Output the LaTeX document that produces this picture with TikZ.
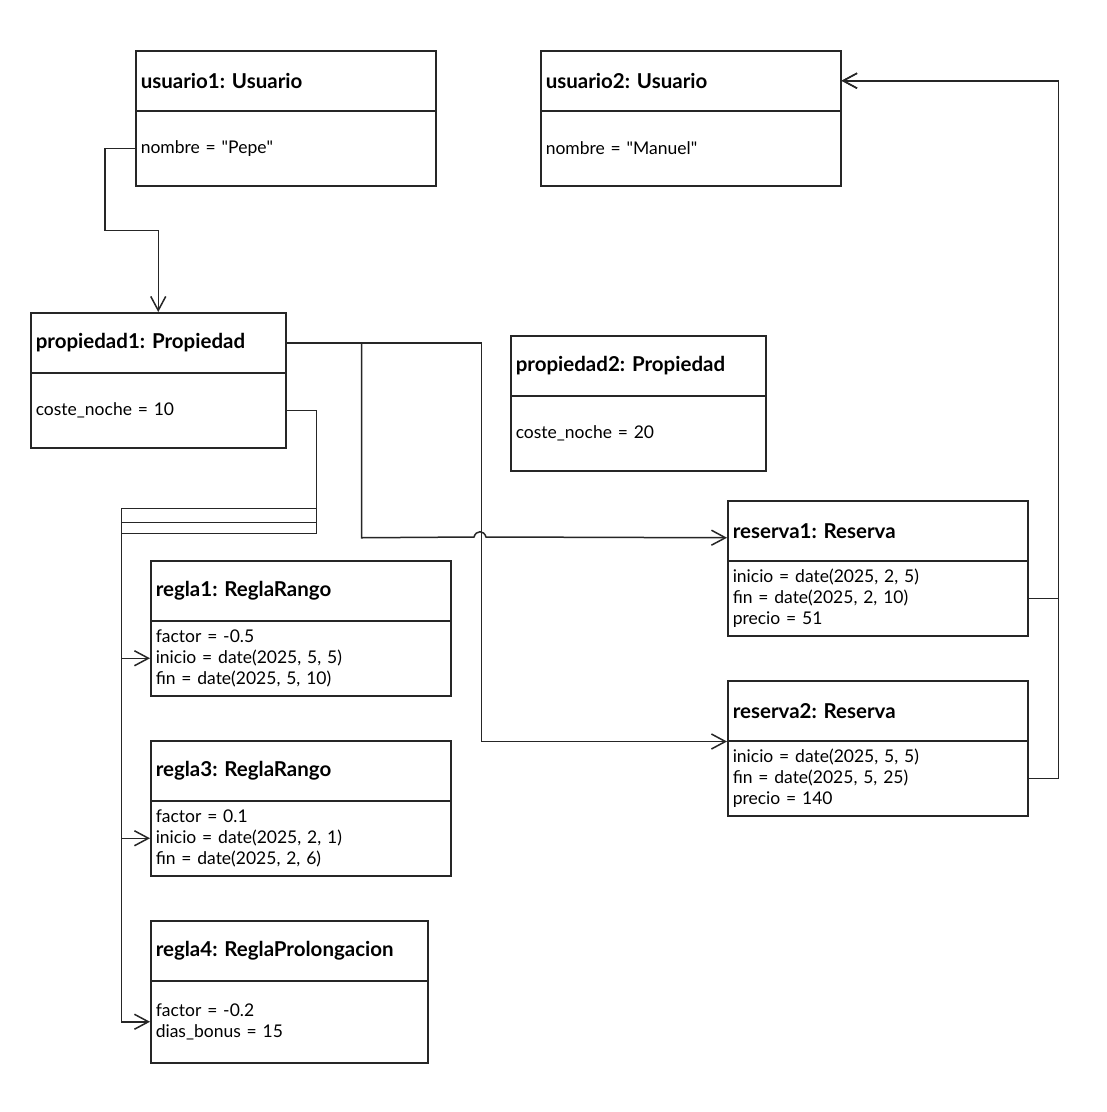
\documentclass[tikz,border=0pt]{standalone}
\usepackage{fontspec}
\setmainfont{Lato}
\usetikzlibrary{arrows.meta}
\tikzset{
  box/.style={draw=black!85, line width=1.5pt, anchor=north west, align=left,
    inner xsep=5pt, inner ysep=0pt},
  hdr/.style={box, minimum height=60pt, font=\fontsize{20.5}{24}\selectfont\bfseries},
  attr/.style={box, font=\fontsize{17.5}{21}\selectfont},
  conn/.style={draw=black!85, line width=1.5pt, -{Straight Barb[length=14pt,width=15pt]}},
}
\frenchspacing
\begin{document}
\frenchspacing
\begin{tikzpicture}[x=1pt,y=-1pt]
\useasboundingbox[fill=white] (0,0) rectangle (1107,1112);
% usuario1
\node[hdr, text width=290pt, minimum width=300pt] (u1h) at (135,50) {usuario1: Usuario};
\node[attr, text width=290pt, minimum width=300pt, minimum height=75pt] (u1b) at (135,110) {nombre = \textquotedbl Pepe\textquotedbl};
% usuario2
\node[hdr, text width=290pt, minimum width=300pt] (u2h) at (540,50) {usuario2: Usuario};
\node[attr, text width=290pt, minimum width=300pt, minimum height=75pt] (u2b) at (540,110) {nombre = \textquotedbl Manuel\textquotedbl};
% propiedad1
\node[hdr, text width=245pt, minimum width=255pt] (p1h) at (30,312) {propiedad1: Propiedad};
\node[attr, text width=245pt, minimum width=255pt, minimum height=75pt] (p1b) at (30,372) {coste\_noche = 10};
% propiedad2
\node[hdr, text width=245pt, minimum width=255pt] (p2h) at (510,335) {propiedad2: Propiedad};
\node[attr, text width=245pt, minimum width=255pt, minimum height=75pt] (p2b) at (510,395) {coste\_noche = 20};
% reserva1
\node[hdr, text width=290pt, minimum width=300pt] (r1h) at (727,500) {reserva1: Reserva};
\node[attr, text width=290pt, minimum width=300pt, minimum height=75pt] (r1b) at (727,560) {inicio = date(2025, 2, 5)\\fin = date(2025, 2, 10)\\precio = 51};
% reserva2
\node[hdr, text width=290pt, minimum width=300pt] (r2h) at (727,680) {reserva2: Reserva};
\node[attr, text width=290pt, minimum width=300pt, minimum height=75pt] (r2b) at (727,740) {inicio = date(2025, 5, 5)\\fin = date(2025, 5, 25)\\precio = 140};
% regla1
\node[hdr, text width=290pt, minimum width=300pt] (g1h) at (150,560) {regla1: ReglaRango};
\node[attr, text width=290pt, minimum width=300pt, minimum height=75pt] (g1b) at (150,620) {factor = -0.5\\inicio = date(2025, 5, 5)\\fin = date(2025, 5, 10)};
% regla3
\node[hdr, text width=290pt, minimum width=300pt] (g3h) at (150,740) {regla3: ReglaRango};
\node[attr, text width=290pt, minimum width=300pt, minimum height=75pt] (g3b) at (150,800) {factor = 0.1\\inicio = date(2025, 2, 1)\\fin = date(2025, 2, 6)};
% regla4
\node[hdr, text width=267pt, minimum width=277pt] (g4h) at (150,920) {regla4: ReglaProlongacion};
\node[attr, text width=267pt, minimum width=277pt, minimum height=82pt] (g4b) at (150,980) {factor = -0.2\\dias\_bonus = 15};
% connectors
\draw[conn] (u1b.west) -- ++(-30,0) -- ++(0,82) -| (p1h.north);
\draw[conn] (p1h.east) -- ++(75,0) -- ++(0,195) -- (474,537) .. controls (476,530) and (484,530) .. (486,537) -- ([yshift=-7pt]r1h.west);
\draw[conn] (p1h.east) -- ++(195,0) |- (r2h.south west);
\draw[conn] (p1b.east) -- ++(30,0) -- ++(0,98) -- ++(-195,0) |- (g1b.west);
\draw[conn] (p1b.east) -- ++(30,0) -- ++(0,112) -- ++(-195,0) |- (g3b.west);
\draw[conn] (p1b.east) -- ++(30,0) -- ++(0,123) -- ++(-195,0) |- (g4b.west);
\draw[conn] (r1b.east) -- ++(30,0) |- (u2h.east);
\draw[conn] (r2b.east) -- ++(30,0) |- (u2h.east);
\end{tikzpicture}
\end{document}
